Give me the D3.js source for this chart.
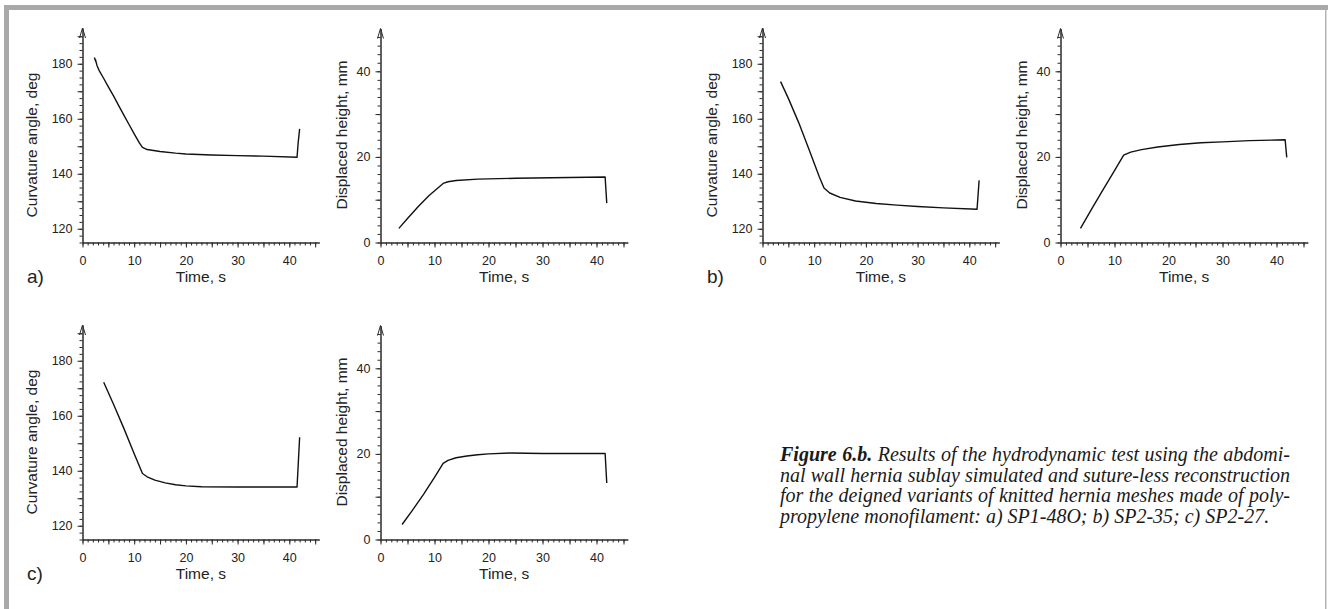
<!DOCTYPE html>
<html>
<head>
<meta charset="utf-8">
<script src="https://cdn.jsdelivr.net/npm/d3@7"></script>
<style>
  body { margin: 0; background: #fff; }
  svg { display: block; font-family: "Liberation Sans", Arial, sans-serif; }
</style>
</head>
<body>
<svg id="fig" width="1328" height="609"></svg>
<script>
// values: [time s, value]
var curvatureA = [[2.3,182.3],[2.6,180.6],[2.5,181.6],[2.8,179.4],[3.2,177.6],[4,175],[5,171.6],[6,168.3],[7,164.8],[8,161.3],[9,157.9],[10,154.5],[11,151.2],[11.6,149.6],[12.5,148.8],[15,148.1],[18,147.5],[20,147.2],[25,146.8],[30,146.6],[35,146.4],[41.5,146.0],[41.7,151],[42,156.3]]
var displacedA = [[3.4,3.3],[5,5.6],[7,8.4],[9,11],[11.6,13.8],[12.5,14.2],[14,14.5],[18,14.8],[25,15.0],[35,15.2],[41.6,15.3],[41.9,9.2]]
var curvatureB = [[3.5,173.5],[5,167.4],[7,158.6],[9,148.8],[11,138.8],[11.9,134.8],[13,133],[15,131.4],[18,130.1],[22,129.2],[26,128.6],[30,128.1],[35,127.6],[41.5,127.1],[41.9,137.6]]
var displacedB = [[3.7,3.3],[6,8.3],[8,12.6],[10,16.8],[11.7,20.4],[13,21.1],[15,21.7],[18,22.3],[22,22.9],[26,23.3],[30,23.5],[35,23.8],[41.6,24.0],[41.9,19.9]]
var curvatureC = [[4.1,172.2],[6,164.2],[8,155.4],[10,146.2],[11.6,139],[12.5,137.8],[14,136.6],[16,135.6],[18,134.9],[20,134.5],[23,134.2],[30,134.1],[41.5,134.1],[41.8,145],[42,152.2]]
var displacedC = [[4,3.5],[6,7.0],[8,10.6],[10,14.5],[11.6,17.8],[12.5,18.5],[14,19.1],[16,19.5],[18,19.8],[20,20.0],[24,20.2],[30,20.1],[41.6,20.1],[41.9,13.2]]

var panelLabels = ["a)", "b)", "c)"]
var curvatureTicks = [120, 140, 160, 180]
var displacedTicks = [0, 20, 40]
var timeTicks = [0, 10, 20, 30, 40]

var captionBold = "Figure 6.b."
var captionLines = [
    " Results of the hydrodynamic test using the abdomi-",
    "nal wall hernia sublay simulated and suture-less reconstruction",
    "for the deigned variants of knitted hernia meshes made of poly-",
    "propylene monofilament: a) SP1-48O; b) SP2-35; c) SP2-27."
]

var svg = d3.select("#fig")
var axisColor = "#2b2b2b"
var lineColor = "#111"

// frame
svg.append("rect").attr("x", 4).attr("y", 5).attr("width", 1324).attr("height", 5).attr("fill", "#a9a9a9")
svg.append("rect").attr("x", 4).attr("y", 5).attr("width", 5).attr("height", 604).attr("fill", "#a9a9a9")
svg.append("rect").attr("x", 1325).attr("y", 10).attr("width", 1.5).attr("height", 599).attr("fill", "#b4b4b4")

var panels = [
    {label: panelLabels[0], ox: 0, oy: 0, curv: curvatureA, disp: displacedA},
    {label: panelLabels[1], ox: 680, oy: 0, curv: curvatureB, disp: displacedB},
    {label: panelLabels[2], ox: 0, oy: 297, curv: curvatureC, disp: displacedC}
]

function drawChart(g, opts) {
    var x0 = opts.left, yBase = opts.bottom
    var xScale = d3.scaleLinear().domain([0, 45.8]).range([x0, x0 + 45.8 * opts.xStep])
    var yScale = d3.scaleLinear().domain(opts.yDomain).range([yBase, yBase - (opts.yDomain[1] - opts.yDomain[0]) * opts.yStep])

    // x axis: minor + major ticks
    g.append("g")
        .attr("transform", `translate(0,${yBase})`)
        .call(d3.axisBottom(xScale).tickValues(d3.range(0, 46, 1)).tickSize(3).tickSizeOuter(0).tickFormat(""))
    g.append("g")
        .attr("transform", `translate(0,${yBase})`)
        .call(d3.axisBottom(xScale).tickValues(d3.range(0, 46, 5)).tickSize(5).tickSizeOuter(0).tickPadding(9)
              .tickFormat(d => timeTicks.includes(d) ? d : ""))

    // y axis
    g.append("g")
        .attr("transform", `translate(${x0},0)`)
        .call(d3.axisLeft(yScale).tickValues(d3.range(opts.yDomain[0], opts.yDomain[1] - 1, opts.yMinor)).tickSize(3).tickSizeOuter(0).tickFormat(""))
    g.append("g")
        .attr("transform", `translate(${x0},0)`)
        .call(d3.axisLeft(yScale).tickValues(d3.range(opts.yMajorStart, opts.yDomain[1] - 1, 10)).tickSize(5).tickSizeOuter(0).tickPadding(5)
              .tickFormat(d => opts.yLabels.includes(d) ? d : ""))

    g.selectAll(".domain, .tick line").attr("stroke", axisColor)
    g.selectAll(".tick text").attr("fill", "#222").attr("font-size", 12.5).attr("font-family", "Liberation Sans, Arial, sans-serif")

    // arrow head on y axis
    var top = yScale(opts.yDomain[1])
    g.append("path")
        .attr("d", `M${x0 - 3},${top + 10}L${x0},${top}L${x0 + 3},${top + 10}`)
        .attr("fill", "none").attr("stroke", axisColor).attr("stroke-width", 1)

    var line = d3.line().x(d => xScale(d[0])).y(d => yScale(d[1]))
    g.append("path")
        .datum(opts.data)
        .attr("d", line)
        .attr("fill", "none")
        .attr("stroke", lineColor)
        .attr("stroke-width", 1.4)
        .attr("stroke-linejoin", "round")

    g.append("text")
        .attr("text-anchor", "middle")
        .attr("font-size", 15.5)
        .attr("fill", "#222")
        .attr("x", (xScale.range()[0] + xScale.range()[1]) / 2)
        .attr("y", yBase + 39)
        .text("Time, s")

    g.append("text")
        .attr("text-anchor", "middle")
        .attr("font-size", 15.5)
        .attr("fill", "#222")
        .attr("transform", `translate(${opts.titleX},${opts.titleY}) rotate(-90)`)
        .text(opts.title)
}

panels.forEach(p => {
    var g = svg.append("g")
    drawChart(g, {
        left: 82.5 + p.ox, bottom: 242.5 + p.oy, xStep: 5.17,
        yDomain: [115, 193], yStep: 2.75, yMinor: 2.5, yMajorStart: 120,
        yLabels: curvatureTicks, data: p.curv,
        title: "Curvature angle, deg", titleX: 37 + p.ox, titleY: 145 + p.oy
    })
    drawChart(g, {
        left: 380.5 + p.ox, bottom: 242.5 + p.oy, xStep: 5.4,
        yDomain: [0, 50], yStep: 4.28, yMinor: 2, yMajorStart: 0,
        yLabels: displacedTicks, data: p.disp,
        title: "Displaced height, mm", titleX: 347 + p.ox, titleY: 135 + p.oy
    })
    svg.append("text")
        .attr("x", 27 + p.ox)
        .attr("y", 283 + p.oy)
        .attr("font-size", 19)
        .attr("fill", "#222")
        .text(p.label)
})

// caption, justified to a common width
var caption = svg.append("g")
    .attr("font-family", "Liberation Serif, Times New Roman, serif")
    .attr("font-style", "italic")
    .attr("font-size", 20)
    .attr("fill", "#1a1a1a")
var captionWidth = 510
captionLines.forEach((txt, i) => {
    var t = caption.append("text").attr("x", 780).attr("y", 461 + i * 20.6)
    if (i === 0) t.append("tspan").attr("font-weight", "bold").text(captionBold)
    t.append("tspan").text(txt)
    if (i < captionLines.length - 1) {
        var natural = t.node().getComputedTextLength()
        var spaces = ((i === 0 ? captionBold : "") + txt).split(" ").length - 1
        t.attr("word-spacing", (captionWidth - natural) / spaces)
    }
})
</script>
</body>
</html>
